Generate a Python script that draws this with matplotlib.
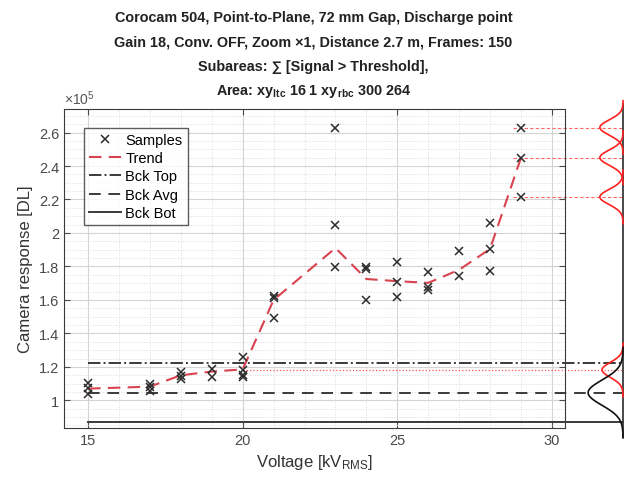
import matplotlib
matplotlib.use('Agg')
import matplotlib.pyplot as plt
from matplotlib.ticker import MultipleLocator, FuncFormatter
import numpy as np

plt.rcParams['font.family'] = ['Liberation Sans', 'DejaVu Sans']
plt.rcParams['mathtext.fontset'] = 'custom'
plt.rcParams['mathtext.rm'] = 'Liberation Sans'
plt.rcParams['mathtext.it'] = 'Liberation Sans'
plt.rcParams['mathtext.bf'] = 'Liberation Sans:bold'

# Samples (camera response, x1e5 DL) per voltage
sample_kv = [15, 15, 15, 17, 17, 17, 18, 18, 18, 19, 19, 20, 20, 20, 20,
             21, 21, 21, 23, 23, 23, 24, 24, 24, 25, 25, 25, 26, 26, 26,
             27, 27, 28, 28, 28, 29, 29, 29]
sample_dl = [1.105, 1.075, 1.038, 1.096, 1.077, 1.058, 1.168, 1.145, 1.127,
             1.185, 1.140, 1.259, 1.180, 1.152, 1.138,
             1.625, 1.614, 1.495, 2.630, 2.045, 1.795, 1.795, 1.785, 1.600,
             1.825, 1.705, 1.620, 1.765, 1.680, 1.660,
             1.890, 1.740, 2.060, 1.905, 1.770, 2.630, 2.450, 2.215]

# Trend (mean per voltage)
trend_kv = [15, 17, 18, 19, 20, 21, 23, 24, 25, 26, 27, 28, 29]
trend_dl = [1.070, 1.082, 1.150, 1.172, 1.185, 1.600, 1.910, 1.725, 1.712,
            1.702, 1.780, 1.905, 2.450]

# Background levels
bck_top = 1.222
bck_avg = 1.046
bck_bot = 0.870
bck_sigma = 0.075

# Side distributions (red): centres of the fitted peaks
peak_tops = [2.630, 2.450, 2.215]
peak_low = 1.182
peak_sigma = 0.045

fig = plt.figure(figsize=(6.27, 4.85), dpi=100)
ax = fig.add_axes([0.102, 0.1155, 0.799, 0.6575])

x_end = 32.3  # where the side panel sits, in voltage units

ax.plot(sample_kv, sample_dl, 'x', color='#2b2b2b', markersize=5.5, mew=1.1,
        label='Samples', zorder=5)
ax.plot(trend_kv, trend_dl, '--', color='#d9434f', lw=1.5, dashes=(6, 3.5),
        label='Trend', zorder=4)
ax.plot([15, x_end], [bck_top] * 2, '-.', color='#3a3a3a', lw=1.4,
        label='Bck Top', clip_on=False)
ax.plot([15, x_end], [bck_avg] * 2, '--', color='#3a3a3a', lw=1.4,
        dashes=(6, 4), label='Bck Avg', clip_on=False)
ax.plot([15, x_end], [bck_bot] * 2, '-', color='#3a3a3a', lw=1.4,
        label='Bck Bot', clip_on=False)

# red guide lines to the side panel
ax.plot([20, x_end], [peak_low] * 2, ':', color='#ff5555', lw=0.9, clip_on=False)
for p in peak_tops:
    ax.plot([28.75, x_end], [p, p], '--', color='#ff6666', lw=0.8,
            dashes=(3, 2), clip_on=False)

# side panel: baseline and distributions
ax.plot([x_end, x_end], [0.78, 2.77], '-', color='#3a3a3a', lw=1.3, clip_on=False)
for c in peak_tops:
    yy = np.linspace(c - 0.16, c + 0.16, 200)
    ax.plot(x_end - 0.75 * np.exp(-(yy - c) ** 2 / (2 * peak_sigma ** 2)), yy,
            color='#ff2020', lw=1.2, clip_on=False)
yy = np.linspace(peak_low - 0.16, peak_low + 0.16, 200)
ax.plot(x_end - 0.68 * np.exp(-(yy - peak_low) ** 2 / (2 * peak_sigma ** 2)), yy,
        color='#ff2020', lw=1.2, clip_on=False)
yy = np.linspace(bck_avg - 0.27, bck_avg + 0.27, 300)
ax.plot(x_end - 1.13 * np.exp(-(yy - bck_avg) ** 2 / (2 * bck_sigma ** 2)), yy,
        color='#111111', lw=1.2, clip_on=False)

ax.set_xlim(14.22, 30.42)
ax.set_ylim(0.835, 2.74)
ax.xaxis.set_major_locator(MultipleLocator(5))
ax.xaxis.set_minor_locator(MultipleLocator(1))
ax.yaxis.set_major_locator(MultipleLocator(0.2))
ax.yaxis.set_minor_locator(MultipleLocator(0.05))
ax.yaxis.set_major_formatter(FuncFormatter(lambda v, pos: f'{v:g}'))
ax.grid(which='major', color='#d4d4d4', lw=0.8)
ax.grid(which='minor', color='#dcdcdc', lw=0.7, ls=':')
ax.set_axisbelow(True)
ax.tick_params(which='both', direction='in', top=True, right=True,
               labelsize=10.5, labelcolor='#4a4a4a', color='#4a4a4a')
ax.tick_params(which='minor', length=0)
ax.tick_params(which='major', length=4)
for s in ax.spines.values():
    s.set_color('#3a3a3a')

ax.set_xlabel('Voltage [kV$_{\\mathrm{RMS}}$]', fontsize=12, color='#333333')
ax.set_ylabel('Camera response [DL]', fontsize=12, color='#333333')
ax.text(0.0, 1.008, '$\\times$10$^5$', transform=ax.transAxes, fontsize=10,
        color='#555555', ha='left', va='bottom')

leg = ax.legend(loc='upper left', bbox_to_anchor=(0.025, 0.965), fontsize=10.5,
                frameon=True, fancybox=False, edgecolor='#333333',
                handlelength=2.2, handletextpad=0.3, borderpad=0.35,
                labelspacing=0.3)
leg.get_frame().set_linewidth(1.0)

title_lines = [
    'Corocam 504, Point-to-Plane, 72 mm Gap, Discharge point',
    'Gain 18, Conv. OFF, Zoom \u00d71, Distance 2.7 m, Frames: 150',
    'Subareas: \u2211 [Signal > Threshold],',
    'Area: xy$_{\\mathbf{ltc}}$ 16 1 xy$_{\\mathbf{rbc}}$ 300 264',
]
for i, line in enumerate(title_lines):
    fig.text(0.5, 1 - (18 + 24.5 * i) / 485, line, ha='center', va='center',
             fontsize=10.4, fontweight='bold', color='#222222')

fig.savefig('out.png', dpi=100)
